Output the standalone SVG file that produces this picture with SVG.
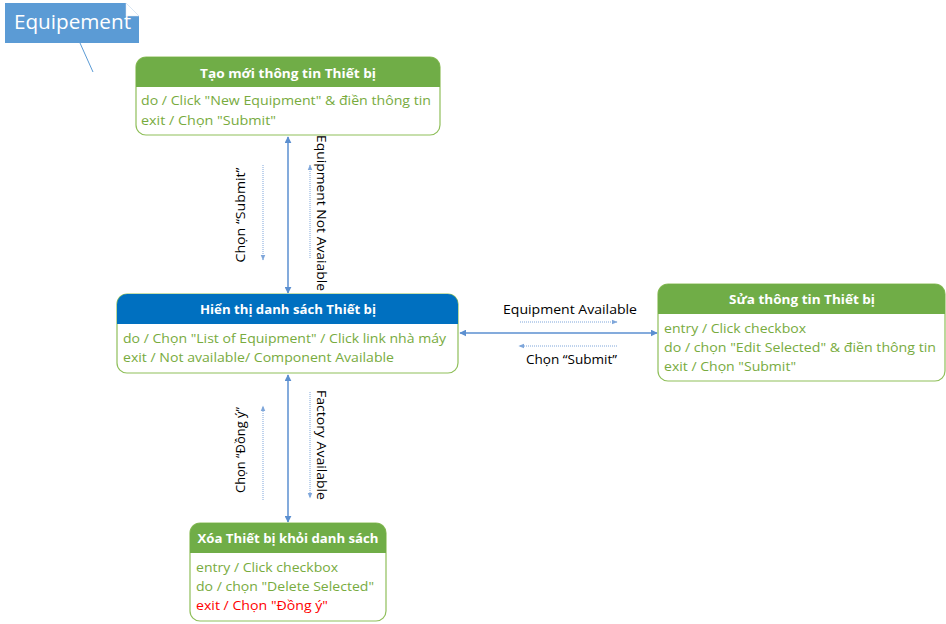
<svg xmlns="http://www.w3.org/2000/svg" width="946" height="624" viewBox="0 0 946 624">
<defs>
<style>
.hdr{font-family:"Open Sans","Liberation Sans",sans-serif;font-weight:bold;font-size:13px;fill:#fff;text-anchor:middle}
.body{font-family:"Open Sans","Liberation Sans",sans-serif;font-size:13.5px;fill:#78ab3e}
.lbl{font-family:"Open Sans","Liberation Sans",sans-serif;font-size:13.5px;fill:#000}
.box{fill:#fff;stroke:#8fbf5a;stroke-width:1.2}
.conn{stroke:#5b8fd0;stroke-width:1.5;fill:none}
.dot{stroke:#7ea6da;stroke-width:1;stroke-dasharray:1 1;fill:none}
</style>
<marker id="ah" viewBox="0 0 10 10" refX="9" refY="5" markerWidth="7" markerHeight="7" orient="auto-start-reverse" markerUnits="userSpaceOnUse">
<path d="M0,0 L10,5 L0,10 z" fill="#5b8fd0"/>
</marker>
<marker id="ahs" viewBox="0 0 10 10" refX="9" refY="5" markerWidth="6" markerHeight="6" orient="auto" markerUnits="userSpaceOnUse">
<path d="M0,1 L10,5 L0,9 z" fill="#7ea6da"/>
</marker>
</defs>
<rect width="946" height="624" fill="#fff"/>

<g id="callout">
<line x1="80" y1="43" x2="93" y2="72" stroke="#5b9bd5" stroke-width="1"/>
<path d="M5,3 H126 L139,16 V43 H5 Z" fill="#5b9bd5"/>
<path d="M126,3 L139,16 H126 Z" fill="#fff" stroke="#dde6f0" stroke-width="0.5"/>
<text x="14" y="29" font-family="'Open Sans','Liberation Sans',sans-serif" font-size="20" fill="#fff" textLength="117" lengthAdjust="spacingAndGlyphs">Equipement</text>
</g>

<g id="connectors">
<line class="conn" x1="288" y1="137" x2="288" y2="293" marker-start="url(#ah)" marker-end="url(#ah)"/>
<line class="dot" x1="263" y1="165" x2="263" y2="260" marker-end="url(#ahs)"/>
<line class="dot" x1="310" y1="258" x2="310" y2="165" marker-end="url(#ahs)"/>
<text class="lbl" transform="translate(245,215) rotate(-90)" text-anchor="middle" textLength="95" lengthAdjust="spacingAndGlyphs">Chọn “Submit”</text>
<text class="lbl" transform="translate(317,135) rotate(90)" textLength="156" lengthAdjust="spacingAndGlyphs">Equipment Not Avaiable</text>

<line class="conn" x1="460" y1="333" x2="657" y2="333" marker-start="url(#ah)" marker-end="url(#ah)"/>
<line class="dot" x1="520" y1="322" x2="617" y2="322" marker-end="url(#ahs)"/>
<line class="dot" x1="617" y1="346" x2="519" y2="346" marker-end="url(#ahs)"/>
<text class="lbl" x="503" y="314" textLength="134" lengthAdjust="spacingAndGlyphs">Equipment Available</text>
<text class="lbl" x="526" y="364" textLength="91" lengthAdjust="spacingAndGlyphs">Chọn “Submit”</text>

<line class="conn" x1="288" y1="375" x2="288" y2="522" marker-start="url(#ah)" marker-end="url(#ah)"/>
<line class="dot" x1="263" y1="500" x2="263" y2="406" marker-end="url(#ahs)"/>
<line class="dot" x1="310" y1="392" x2="310" y2="498" marker-end="url(#ahs)"/>
<text class="lbl" transform="translate(245,450) rotate(-90)" text-anchor="middle" textLength="86" lengthAdjust="spacingAndGlyphs">Chọn “Đồng ý”</text>
<text class="lbl" transform="translate(317,390) rotate(90)" textLength="110" lengthAdjust="spacingAndGlyphs">Factory Available</text>
</g>

<g id="node-tao-moi">
<rect class="box" x="136" y="57" width="304" height="78" rx="10"/>
<path d="M136,87 V67 A10,10 0 0 1 146,57 H430 A10,10 0 0 1 440,67 V87 Z" fill="#70ad47"/>
<text class="hdr" x="288" y="78" textLength="176" lengthAdjust="spacingAndGlyphs">Tạo mới thông tin Thiết bị</text>
<text class="body" x="141" y="105" textLength="290" lengthAdjust="spacingAndGlyphs">do / Click "New Equipment" &amp; điền thông tin</text>
<text class="body" x="141" y="125" textLength="135" lengthAdjust="spacingAndGlyphs">exit / Chọn "Submit"</text>
</g>

<g id="node-hien-thi">
<rect class="box" x="117" y="294" width="341" height="79" rx="10"/>
<path d="M117,324 V304 A10,10 0 0 1 127,294 H448 A10,10 0 0 1 458,304 V324 Z" fill="#0070c0"/>
<text class="hdr" x="288" y="314" textLength="176" lengthAdjust="spacingAndGlyphs">Hiển thị danh sách Thiết bị</text>
<text class="body" x="123" y="343" textLength="323" lengthAdjust="spacingAndGlyphs">do / Chọn "List of Equipment" / Click link nhà máy</text>
<text class="body" x="123" y="362" textLength="271" lengthAdjust="spacingAndGlyphs">exit / Not available/ Component Available</text>
</g>

<g id="node-sua">
<rect class="box" x="658" y="284" width="287" height="97" rx="10"/>
<path d="M658,314 V294 A10,10 0 0 1 668,284 H935 A10,10 0 0 1 945,294 V314 Z" fill="#70ad47"/>
<text class="hdr" x="802" y="304" textLength="146" lengthAdjust="spacingAndGlyphs">Sửa thông tin Thiết bị</text>
<text class="body" x="664" y="333" textLength="142" lengthAdjust="spacingAndGlyphs">entry / Click checkbox</text>
<text class="body" x="664" y="352" textLength="272" lengthAdjust="spacingAndGlyphs">do / chọn "Edit Selected" &amp; điền thông tin</text>
<text class="body" x="664" y="371" textLength="132" lengthAdjust="spacingAndGlyphs">exit / Chọn "Submit"</text>
</g>

<g id="node-xoa">
<rect class="box" x="190" y="523" width="196" height="98" rx="10"/>
<path d="M190,553 V533 A10,10 0 0 1 200,523 H376 A10,10 0 0 1 386,533 V553 Z" fill="#70ad47"/>
<text class="hdr" x="288" y="543" textLength="181" lengthAdjust="spacingAndGlyphs">Xóa Thiết bị khỏi danh sách</text>
<text class="body" x="196" y="572" textLength="142" lengthAdjust="spacingAndGlyphs">entry / Click checkbox</text>
<text class="body" x="196" y="591" textLength="178" lengthAdjust="spacingAndGlyphs">do / chọn "Delete Selected"</text>
<text class="body" x="196" y="610" style="fill:#ff0000" textLength="132" lengthAdjust="spacingAndGlyphs">exit / Chọn "Đồng ý"</text>
</g>
</svg>
